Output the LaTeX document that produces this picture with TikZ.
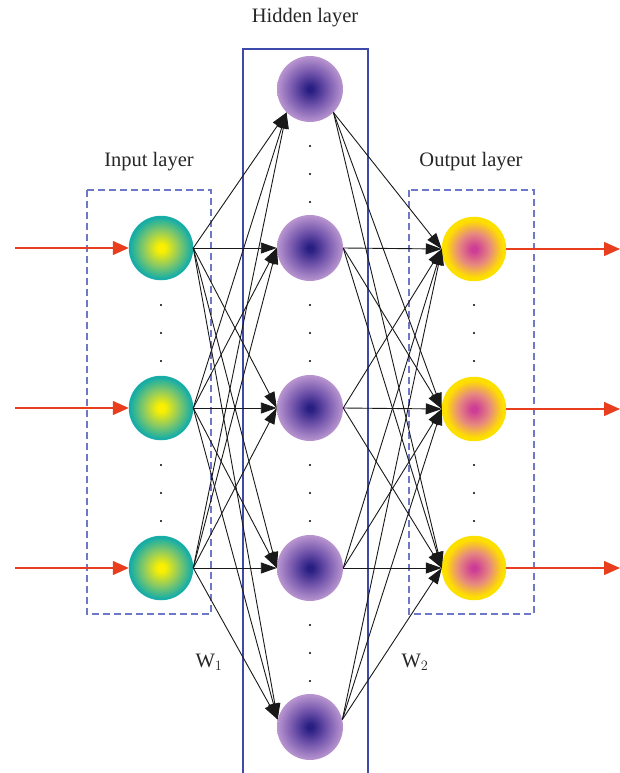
\documentclass[tikz,border=0pt]{standalone}
\usepackage{fontspec}
\setmainfont{Liberation Serif}
\usetikzlibrary{arrows.meta}
\definecolor{inC}{RGB}{250,240,0}
\definecolor{inM}{RGB}{150,205,90}
\definecolor{inE}{RGB}{15,172,170}
\definecolor{inRim}{RGB}{25,172,168}
\definecolor{hC}{RGB}{40,30,130}
\definecolor{hM}{RGB}{115,85,172}
\definecolor{hE}{RGB}{185,150,208}
\definecolor{oC}{RGB}{205,60,150}
\definecolor{oM}{RGB}{232,140,125}
\definecolor{oE}{RGB}{255,222,0}
\definecolor{outRim}{RGB}{252,225,0}
\definecolor{arrowRed}{RGB}{232,62,30}
\definecolor{boxDash}{RGB}{110,120,200}
\definecolor{boxBlue}{RGB}{60,75,170}
\pgfdeclareradialshading{inshade}{\pgfpoint{0bp}{0bp}}{color(0bp)=(inC); color(3bp)=(inC); color(13bp)=(inM); color(25bp)=(inE); color(50bp)=(inE)}
\pgfdeclareradialshading{hidshade}{\pgfpoint{0bp}{0bp}}{color(0bp)=(hC); color(2bp)=(hC); color(13bp)=(hM); color(25bp)=(hE); color(50bp)=(hE)}
\pgfdeclareradialshading{outshade}{\pgfpoint{0bp}{0bp}}{color(0bp)=(oC); color(2bp)=(oC); color(13bp)=(oM); color(23bp)=(oE); color(50bp)=(oE)}
\begin{document}
\begin{tikzpicture}[x=1pt,y=-1pt,
  inode/.style={circle,minimum size=63pt,inner sep=0pt,shading=inshade,draw=inRim,line width=1.5pt},
  hnode/.style={circle,minimum size=66pt,inner sep=0pt,shading=hidshade},
  onode/.style={circle,minimum size=62pt,inner sep=0pt,shading=outshade,draw=outRim,line width=2.5pt},
  conn/.style={-{Triangle[length=16pt,width=11pt]},line width=0.9pt,black!90},
  redarr/.style={-{Triangle[length=16pt,width=14pt]},line width=1.4pt,arrowRed},
  dashbox/.style={draw=boxDash,dash pattern=on 7pt off 4pt,line width=1.2pt},
  solidbox/.style={draw=boxBlue,line width=1.2pt},
  lbl/.style={font=\fontsize{20.5}{24}\selectfont,inner sep=0pt,text=black!85},
  dotm/.style={circle,fill=black,inner sep=0pt,minimum size=2.4pt}
]
\useasboundingbox (0,0) rectangle (620,773);
% boxes
\draw[dashbox] (87,190) rectangle (211,614);
\draw[dashbox] (409,190) rectangle (534,614);
\draw[solidbox] (243,780) -- (243,49) -- (368,49) -- (368,780);
% labels
\node[lbl,anchor=base] (lh) at (305,23) {Hidden layer};
\node[lbl,anchor=base] (li) at (149,166) {Input layer};
\node[lbl,anchor=base] (lo) at (471,166) {Output layer};
\node[lbl,anchor=base] (w1) at (209,667) {W$_1$};
\node[lbl,anchor=base] (w2) at (415,667) {W$_2$};
% nodes
\node[inode] (i1) at (161,248) {};
\node[inode] (i2) at (161,408) {};
\node[inode] (i3) at (161,568) {};
\node[hnode] (h1) at (310,89) {};
\node[hnode] (h2) at (310,248) {};
\node[hnode] (h3) at (310,408) {};
\node[hnode] (h4) at (310,568) {};
\node[hnode] (h5) at (310,727) {};
\node[onode] (o1) at (474,249) {};
\node[onode] (o2) at (474,409) {};
\node[onode] (o3) at (474,568) {};
% dots
\foreach \y in {89,248,408,568}{
  \foreach \d in {57,85,113}{
    \node[dotm] at (310,\y+\d) {};
  }
}
\foreach \y in {248,408}{
  \foreach \d in {57,85,113}{
    \node[dotm] at (161,\y+\d) {};
    \node[dotm] at (474,\y+\d) {};
  }
}
% connectors
\foreach \i in {1,2,3}{
  \foreach \j/\a in {1/225,2/180,3/180,4/180,5/167}{
    \draw[conn] (i\i.east) -- (h\j.\a);
  }
}
\foreach \j/\a in {1/315,2/0,3/0,4/0,5/13}{
  \foreach \k in {1,2,3}{
    \draw[conn] (h\j.\a) -- (o\k.west);
  }
}
% red arrows
\coordinate (s1) at (15,248);
\coordinate (s2) at (15,408);
\coordinate (s3) at (15,568);
\coordinate (e1) at (620,249);
\coordinate (e2) at (620,409);
\coordinate (e3) at (620,568);
\foreach \n in {1,2,3}{
  \draw[redarr] (s\n) -- (i\n.west);
  \draw[redarr] (o\n.east) -- (e\n);
}
\end{tikzpicture}
\end{document}
